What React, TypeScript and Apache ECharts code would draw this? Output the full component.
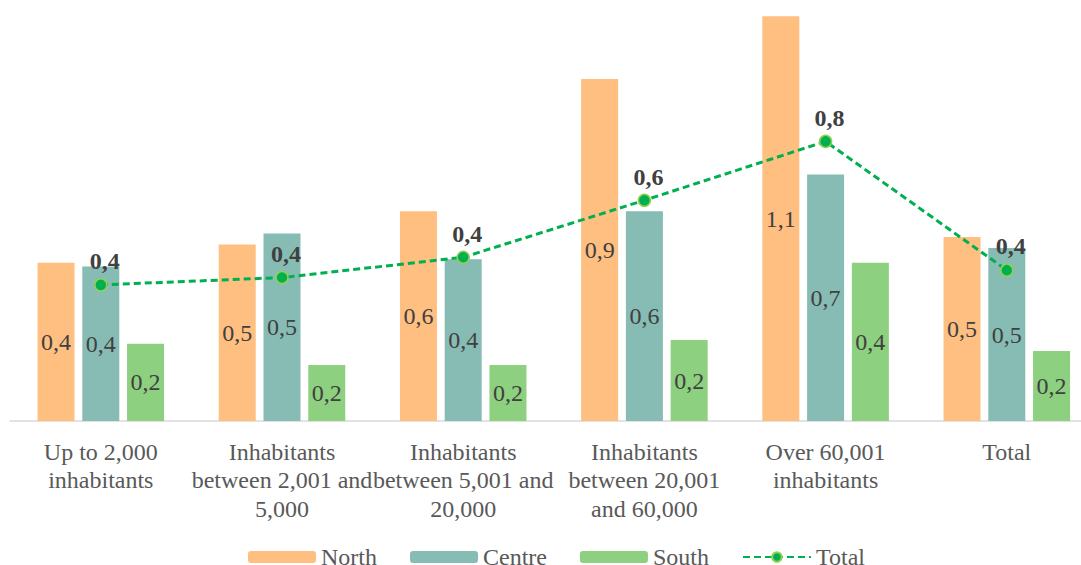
import React, { useEffect, useRef } from "react";
import * as echarts from "echarts";

const categories = [
  "Up to 2,000\ninhabitants",
  "Inhabitants\nbetween 2,001 and\n5,000",
  "Inhabitants\nbetween 5,001 and\n20,000",
  "Inhabitants\nbetween 20,001\nand 60,000",
  "Over 60,001\ninhabitants",
  "Total",
];
const north = [0.43, 0.48, 0.57, 0.93, 1.1, 0.5];
const centre = [0.42, 0.51, 0.44, 0.57, 0.67, 0.47];
const south = [0.21, 0.152, 0.152, 0.22, 0.43, 0.19];
const total = [0.37, 0.39, 0.445, 0.6, 0.76, 0.41];

const FONT = "'Liberation Serif', 'Times New Roman', serif";
const fmt = (p: any) => Number(p.value).toFixed(1).replace(".", ",");

export default function App() {
  const ref = useRef<HTMLDivElement>(null);
  useEffect(() => {
    if (!ref.current) return;
    const chart = echarts.init(ref.current, undefined, { renderer: "svg" });
    const barLabel = {
      show: true,
      position: "inside",
      formatter: fmt,
      fontFamily: FONT,
      fontSize: 24,
      color: "#404040",
    };
    chart.setOption({
      animation: false,
      backgroundColor: "#ffffff",
      textStyle: { fontFamily: FONT },
      grid: { left: 10.2, width: 1087.2, top: 9, height: 412, containLabel: false },
      legend: {
        left: 243,
        top: 545,
        padding: [0, 5],
        itemWidth: 68,
        itemHeight: 12,
        itemGap: 33,
        textStyle: { fontFamily: FONT, fontSize: 24, lineHeight: 18, color: "#595959" },
        data: ["North", "Centre", "South", "Total"],
      },
      xAxis: {
        type: "category",
        data: categories,
        axisLine: { lineStyle: { color: "#D9D9D9", width: 1.5 } },
        axisTick: { show: false },
        axisLabel: {
          interval: 0,
          margin: 16.5,
          fontFamily: FONT,
          fontSize: 24,
          lineHeight: 28.5,
          color: "#595959",
        },
      },
      yAxis: {
        type: "value",
        min: 0,
        max: 1.12,
        show: false,
        splitLine: { show: false },
      },
      series: [
        {
          name: "North",
          type: "bar",
          data: north,
          barWidth: 37,
          barGap: "21%",
          itemStyle: { color: "#FFBF80" },
          label: barLabel,
        },
        {
          name: "Centre",
          type: "bar",
          data: centre,
          barWidth: 37,
          barGap: "21%",
          itemStyle: { color: "#87BCB5" },
          label: barLabel,
        },
        {
          name: "South",
          type: "bar",
          data: south,
          barWidth: 37,
          barGap: "21%",
          itemStyle: { color: "#8DD07F" },
          label: barLabel,
        },
        {
          name: "Total",
          type: "line",
          data: total,
          symbol: "circle",
          symbolSize: 12,
          lineStyle: { color: "#00B050", width: 3, type: [7, 4] },
          itemStyle: { color: "#00B050", borderColor: "#92D050", borderWidth: 1.5 },
          label: {
            show: true,
            position: "top",
            distance: 5,
            offset: [4, 0],
            formatter: fmt,
            fontFamily: FONT,
            fontSize: 24,
            fontWeight: "bold",
            color: "#404040",
          },
          z: 5,
        },
      ],
    });
    return () => chart.dispose();
  }, []);
  return (
    <div
      style={{
        position: "fixed",
        left: 0,
        top: 0,
        width: 1081,
        height: 565,
        overflow: "hidden",
        background: "#ffffff",
      }}
    >
      <div ref={ref} style={{ width: 1100, height: 565 }} />
    </div>
  );
}
